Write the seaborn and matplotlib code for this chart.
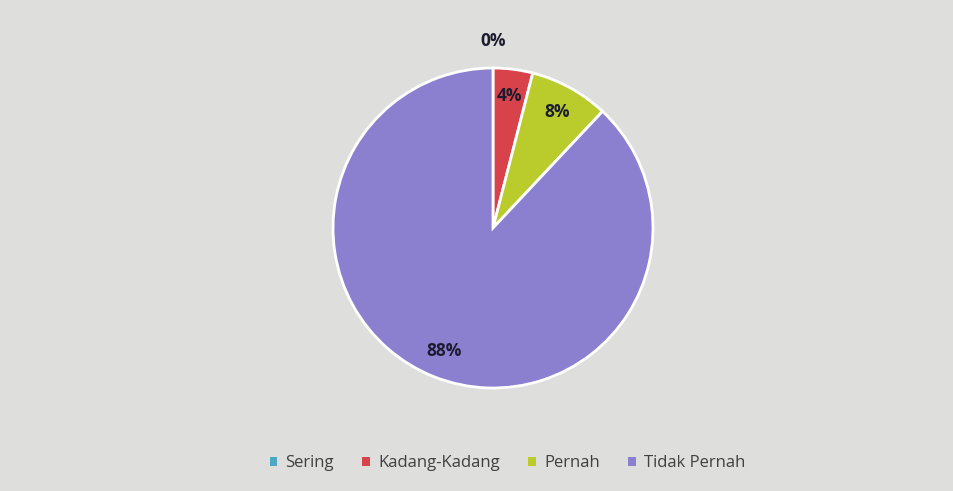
import matplotlib
matplotlib.use("Agg")
import matplotlib.pyplot as plt
from matplotlib.patches import Patch
import seaborn as sns
import numpy as np

categories = ["Sering", "Kadang-Kadang", "Pernah", "Tidak Pernah"]
values = [0, 4, 8, 88]
colors = ["#4aa8c4", "#d8434b", "#b9cc2c", "#8b80d0"]

sns.set_style("white")
plt.rcParams["font.family"] = ["Open Sans", "DejaVu Sans"]

fig = plt.figure(figsize=(9.54, 4.91), dpi=100)
fig.patch.set_facecolor("#dededd")
ax = fig.add_axes([0, 0, 1, 1])
ax.set_facecolor("#dededd")

wedges, texts, autotexts = ax.pie(
    values,
    colors=colors,
    startangle=90,
    counterclock=False,
    autopct=lambda p: f"{p:.0f}%",
    pctdistance=0.83,
    wedgeprops=dict(edgecolor="white", linewidth=2),
    textprops=dict(fontsize=12.5, fontweight="bold", color="#1c1c30"),
)

# zero slice label sits outside the pie
for w, t, v in zip(wedges, autotexts, values):
    if v == 0:
        ang = np.deg2rad((w.theta1 + w.theta2) / 2)
        t.set_position((1.17 * np.cos(ang), 1.17 * np.sin(ang)))

r = 160.0
ax.set_xlim(-493 / r, (954 - 493) / r)
ax.set_ylim(-(491 - 228) / r, 228 / r)
ax.set_aspect("auto")
ax.axis("off")

handles = [Patch(facecolor=c, edgecolor="none") for c in colors]
leg = fig.legend(
    handles, categories,
    loc="center", bbox_to_anchor=(0.532, 0.057),
    ncol=4, frameon=False, fontsize=12,
    handlelength=0.45, handleheight=0.45, columnspacing=1.7, handletextpad=0.5,
)
for t in leg.get_texts():
    t.set_color("#404040")

plt.savefig("out.png", dpi=100, facecolor=fig.get_facecolor())
